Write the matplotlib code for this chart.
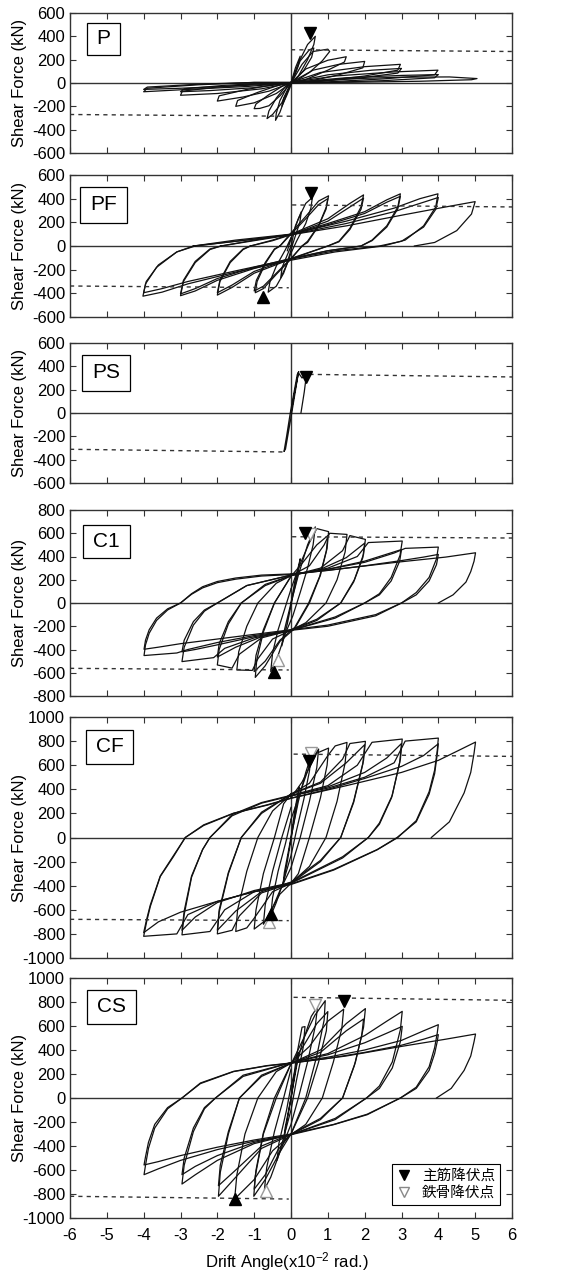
import matplotlib
matplotlib.use('Agg')
import matplotlib.pyplot as plt
from matplotlib.lines import Line2D
from matplotlib.patches import Rectangle

plt.rcParams['font.family'] = ['Liberation Sans', 'DejaVu Sans']
plt.rcParams['mathtext.default'] = 'regular'
plt.rcParams['axes.unicode_minus'] = False

# ---- data: (drift angle x10^-2 rad, shear force kN) ----
P_loops = [
    [(0, 0), (0.12, 130), (0.25, 230), (0.2, 150), (0.05, 20), (-0.12, -110), (-0.25, -200), (-0.2, -130), (0, 0)],
    [(0, 0), (0.2, 170), (0.45, 330), (0.66, 400), (0.62, 330), (0.45, 200), (0.2, 60), (0, 0),
     (-0.15, -120), (-0.3, -250), (-0.42, -320), (-0.4, -260), (-0.3, -150), (-0.1, -30), (0, 0)],
    [(0, 0), (0.25, 190), (0.5, 285), (0.62, 300), (0.56, 220), (0.35, 110), (0.1, 20), (0, 0),
     (-0.25, -170), (-0.5, -270), (-0.65, -305), (-0.6, -240), (-0.4, -130), (-0.15, -30), (0, 0)],
    [(0, 0), (0.3, 160), (0.6, 270), (0.8, 280), (1.0, 290), (1.05, 270), (0.85, 190), (0.5, 90), (0.1, 10),
     (0, 0), (-0.3, -110), (-0.6, -195), (-0.85, -218), (-1.0, -220), (-0.95, -180), (-0.6, -100), (-0.2, -20), (0, 0)],
    [(0, 0), (0.4, 120), (1.0, 195), (1.5, 225), (1.45, 180), (1.0, 110), (0.4, 30), (0, 0),
     (-0.4, -90), (-1.0, -170), (-1.5, -200), (-1.45, -150), (-0.9, -80), (-0.3, -15), (0, 0)],
    [(0, 5), (0.6, 110), (1.3, 160), (2.0, 185), (1.95, 130), (1.3, 70), (0.5, 15), (0, 0),
     (-0.6, -70), (-1.3, -120), (-2.0, -155), (-1.95, -110), (-1.2, -55), (-0.4, -10), (0, 0)],
    [(0, 5), (0.8, 90), (2.0, 140), (2.97, 160), (2.9, 110), (2.0, 60), (0.8, 15), (0, 0),
     (-0.8, -50), (-2.0, -90), (-3.0, -105), (-2.95, -70), (-2.0, -35), (-0.8, -5), (0, 0)],
    [(0, 5), (1.0, 70), (2.2, 110), (3.0, 125), (2.9, 85), (1.8, 40), (0.6, 10), (0, 0),
     (-1.0, -40), (-2.2, -65), (-3.0, -75), (-2.9, -50), (-1.8, -20), (-0.6, 0), (0, 0)],
    [(0, 5), (1.2, 60), (2.8, 95), (3.99, 110), (3.9, 70), (2.5, 35), (1.0, 10), (0, 0),
     (-1.2, -30), (-2.8, -55), (-4.0, -75), (-3.9, -45), (-2.5, -15), (-1.0, 5), (0, 5)],
    [(0, 5), (1.5, 45), (3.0, 65), (4.0, 72), (3.9, 45), (2.5, 20), (1.0, 5), (0, 0),
     (-1.5, -25), (-3.0, -45), (-4.0, -55), (-3.9, -35), (-2.5, -10), (-1.0, 5), (0, 5)],
    [(0, 5), (1.5, 35), (3.0, 50), (4.3, 52), (5.05, 38), (4.9, 28), (3.5, 15), (2.0, 8), (0.5, 3)],
]

PF_loops = [
    [(0, 0), (0.12, 170), (0.28, 290), (0.24, 200), (0.05, 20), (-0.12, -160), (-0.28, -270), (-0.24, -180), (0, 0)],
    [(-0.1, -40), (0, 60), (0.2, 230), (0.4, 360), (0.58, 410), (0.54, 320), (0.4, 190), (0.15, 40), (0, -60),
     (-0.2, -230), (-0.4, -340), (-0.62, -390), (-0.57, -300), (-0.4, -170), (-0.15, -30), (0, 70)],
    [(-0.3, 0), (0, 110), (0.4, 250), (0.75, 380), (1.02, 424), (0.96, 330), (0.76, 180), (0.45, 40), (0.3, 0),
     (0, -110), (-0.4, -240), (-0.75, -360), (-0.97, -395), (-0.92, -300), (-0.7, -150), (-0.45, -30), (-0.3, 0)],
    [(-0.3, 0), (0, 100), (0.4, 230), (0.75, 350), (1.0, 400), (0.95, 310), (0.75, 170), (0.45, 30), (0.3, 0),
     (0, -105), (-0.4, -230), (-0.75, -340), (-1.0, -380), (-0.94, -290), (-0.7, -140), (-0.45, -25), (-0.3, 0)],
    [(-1.1, 0), (-0.5, 50), (0, 100), (1.0, 230), (1.6, 360), (1.97, 432), (1.9, 330), (1.6, 150), (1.3, 40), (1.0, 0),
     (0, -110), (-1.0, -230), (-1.6, -350), (-2.0, -415), (-1.93, -300), (-1.65, -140), (-1.3, -30), (-1.1, 0)],
    [(-1.1, 0), (-0.5, 45), (0, 95), (1.0, 210), (1.6, 330), (1.97, 405), (1.9, 310), (1.6, 140), (1.3, 35), (1.0, 0),
     (0, -105), (-1.0, -215), (-1.6, -330), (-2.0, -395), (-1.93, -290), (-1.65, -130), (-1.3, -25), (-1.1, 0)],
    [(-1.9, 0), (-1.0, 50), (0, 100), (1.0, 190), (2.0, 290), (2.6, 390), (2.97, 441), (2.9, 330), (2.6, 170),
     (2.2, 50), (1.9, 0), (1.0, -40), (0, -110), (-1.0, -190), (-2.0, -290), (-2.6, -380), (-3.0, -420),
     (-2.92, -300), (-2.6, -140), (-2.2, -30), (-1.9, 0)],
    [(-1.9, 0), (-1.0, 45), (0, 95), (1.0, 180), (2.0, 275), (2.6, 370), (2.97, 420), (2.9, 315), (2.6, 160),
     (2.2, 45), (1.9, 0), (1.0, -40), (0, -105), (-1.0, -180), (-2.0, -275), (-2.6, -360), (-3.0, -405),
     (-2.92, -290), (-2.6, -130), (-2.2, -25), (-1.9, 0)],
    [(-2.65, 0), (-1.5, 50), (0, 100), (1.5, 210), (2.8, 320), (3.5, 400), (3.99, 441), (3.93, 330), (3.6, 170),
     (3.1, 50), (2.5, 0), (1.2, -50), (0, -120), (-1.5, -220), (-2.8, -320), (-3.5, -390), (-4.02, -424),
     (-3.95, -320), (-3.65, -180), (-3.1, -50), (-2.65, 0)],
    [(-2.65, 0), (-1.5, 40), (0, 95), (1.5, 190), (2.8, 290), (3.5, 360), (4.0, 410), (3.93, 310), (3.6, 160),
     (3.0, 40), (2.4, 0), (1.2, -40), (0, -110), (-1.5, -210), (-2.8, -300), (-3.5, -360), (-4.0, -395),
     (-3.93, -300), (-3.6, -160), (-3.1, -50), (-2.6, 0)],
    [(-2.6, 0), (-1.5, 40), (0, 95), (1.5, 170), (3.0, 260), (4.2, 330), (5.0, 375), (4.9, 270), (4.5, 130),
     (3.9, 30), (3.35, 0)],
]

PS_loops = [
    [(0, 0), (0.1, 180), (0.21, 355), (0.17, 330), (-0.02, 0), (-0.12, -200), (-0.19, -330), (-0.15, -310),
     (0.02, 0), (0.12, 190), (0.2, 345), (0.3, 300), (0.38, 325), (0.4, 280), (0.36, 180), (0.27, 0)],
]

C1_loops = [
    [(0, 0), (0.1, 180), (0.25, 380), (0.2, 270), (0.05, 60), (-0.1, -180), (-0.25, -370), (-0.2, -260), (0, 0)],
    [(0, 0), (0.2, 240), (0.45, 500), (0.66, 655), (0.6, 500), (0.45, 300), (0.25, 90), (0.05, -110),
     (-0.15, -260), (-0.35, -450), (-0.55, -590), (-0.5, -430), (-0.35, -230), (-0.15, -30), (0, 120)],
    [(0, 120), (0.2, 300), (0.5, 520), (0.7, 640), (1.02, 614), (0.98, 470), (0.8, 240), (0.5, 0), (0.1, -220),
     (-0.3, -330), (-0.7, -540), (-0.97, -640), (-0.93, -490), (-0.75, -250), (-0.45, 0), (0, 230)],
    [(0, 230), (0.3, 340), (0.7, 500), (1.0, 580), (0.96, 450), (0.78, 230), (0.48, 0), (0.1, -210),
     (-0.3, -320), (-0.7, -500), (-1.0, -590), (-0.95, -450), (-0.75, -230), (-0.45, 0), (0, 230)],
    [(0, 235), (0.5, 320), (0.9, 500), (1.05, 600), (1.52, 590), (1.47, 440), (1.25, 200), (0.95, 0), (0.4, -170),
     (0, -235), (-0.5, -310), (-0.9, -480), (-1.05, -580), (-1.47, -576), (-1.42, -420), (-1.2, -200), (-0.9, 0),
     (-0.4, 170), (0, 235)],
    [(0, 235), (0.8, 300), (1.4, 450), (1.6, 580), (2.02, 547), (1.97, 420), (1.72, 200), (1.35, 0), (0.7, -150),
     (0, -235), (-0.8, -300), (-1.4, -440), (-1.6, -560), (-2.0, -533), (-1.95, -400), (-1.7, -180), (-1.35, 0),
     (-0.7, 160), (0, 235)],
    [(0, 235), (0.8, 290), (1.5, 390), (2.0, 515), (1.95, 390), (1.7, 180), (1.35, 0), (0.7, -140),
     (0, -230), (-0.8, -290), (-1.5, -380), (-2.0, -465), (-1.95, -350), (-1.7, -160), (-1.35, 0), (-0.7, 150),
     (0, 235)],
    [(0, 240), (1.0, 300), (1.8, 400), (2.1, 520), (3.02, 533), (2.96, 410), (2.72, 220), (2.4, 80), (2.0, 0),
     (1.2, -130), (0, -235), (-1.0, -300), (-1.8, -390), (-2.1, -470), (-2.96, -504), (-2.9, -380), (-2.65, -190),
     (-2.35, -70), (-2.0, 0), (-1.2, 150), (0, 240)],
    [(0, 240), (1.0, 290), (2.0, 360), (2.6, 420), (3.0, 460), (2.95, 360), (2.72, 190), (2.4, 70), (2.0, 0),
     (1.2, -120), (0, -235), (-1.0, -290), (-2.0, -360), (-2.6, -400), (-2.96, -420), (-2.9, -320), (-2.65, -160),
     (-2.35, -60), (-2.0, 0), (-1.2, 150), (0, 240)],
    [(0, 245), (1.0, 290), (2.0, 350), (2.8, 430), (3.1, 470), (4.0, 481), (3.95, 380), (3.75, 220), (3.4, 90),
     (3.0, 0), (2.3, -110), (1.0, -200), (0, -235), (-1.0, -280), (-2.0, -340), (-2.8, -400), (-3.1, -430),
     (-3.99, -452), (-3.95, -360), (-3.85, -260), (-3.65, -150), (-3.35, -60), (-3.0, 0), (-2.7, 80),
     (-2.4, 140), (-2.0, 185), (-1.5, 215), (-0.8, 240), (0, 250)],
    [(0, 250), (1.0, 280), (2.0, 320), (3.0, 365), (3.6, 395), (4.0, 418), (3.95, 330), (3.75, 190), (3.4, 70),
     (3.0, 0), (2.3, -100), (1.0, -190), (0, -230), (-1.0, -270), (-2.0, -310), (-3.0, -350), (-3.6, -380),
     (-3.99, -398), (-3.95, -320), (-3.85, -230), (-3.65, -130), (-3.35, -50), (-3.0, 0), (-2.7, 75),
     (-2.4, 130), (-2.0, 175), (-1.5, 205), (-0.8, 232), (0, 245)],
    [(0, 245), (1.5, 300), (3.0, 355), (4.2, 395), (5.01, 432), (4.97, 360), (4.88, 270), (4.75, 180), (4.4, 70),
     (4.0, 0)],
]

CF_loops = [
    [(0, 0), (0.1, 220), (0.22, 420), (0.18, 300), (0.04, 60), (-0.1, -200), (-0.22, -400), (-0.18, -290), (0, 0)],
    [(0, 0), (0.2, 300), (0.4, 540), (0.55, 680), (0.5, 550), (0.35, 320), (0.15, 60), (0, -150),
     (-0.2, -360), (-0.4, -540), (-0.55, -650), (-0.5, -500), (-0.35, -280), (-0.15, -50), (0, 150)],
    [(0, 150), (0.3, 420), (0.55, 640), (0.75, 734), (0.7, 580), (0.5, 300), (0.25, 0), (0, -250),
     (-0.3, -440), (-0.55, -620), (-0.75, -720), (-0.7, -560), (-0.5, -280), (-0.25, 0), (0, 250)],
    [(0, 330), (0.3, 460), (0.7, 700), (1.02, 742), (0.98, 600), (0.8, 330), (0.5, 0), (0.2, -300), (0, -380),
     (-0.3, -470), (-0.7, -690), (-1.0, -760), (-0.95, -600), (-0.75, -300), (-0.45, 0), (-0.2, 280), (0, 360)],
    [(0, 360), (0.5, 450), (1.0, 680), (1.2, 760), (1.52, 789), (1.47, 620), (1.25, 300), (0.95, 0), (0.5, -240),
     (0, -380), (-0.5, -450), (-1.0, -670), (-1.2, -750), (-1.5, -780), (-1.45, -600), (-1.2, -280), (-0.9, 0),
     (-0.5, 220), (0, 360)],
    [(0, 360), (0.8, 460), (1.4, 650), (1.6, 780), (2.02, 798), (1.97, 640), (1.7, 300), (1.35, 0), (0.8, -200),
     (0, -380), (-0.8, -460), (-1.4, -650), (-1.6, -770), (-2.0, -800), (-1.95, -620), (-1.7, -300), (-1.35, 0),
     (-0.8, 210), (0, 360)],
    [(0, 360), (0.8, 450), (1.5, 620), (2.0, 770), (1.95, 610), (1.7, 290), (1.35, 0), (0.8, -190),
     (0, -370), (-0.8, -450), (-1.5, -610), (-2.0, -770), (-1.95, -600), (-1.7, -290), (-1.35, 0), (-0.8, 200),
     (0, 360)],
    [(0, 350), (1.0, 430), (1.8, 600), (2.2, 790), (3.02, 817), (2.97, 650), (2.75, 350), (2.4, 120), (2.1, 0),
     (1.4, -170), (0, -380), (-1.0, -450), (-1.8, -600), (-2.2, -780), (-2.96, -808), (-2.9, -640), (-2.7, -330),
     (-2.4, -100), (-2.2, 0), (-1.6, 190), (-0.8, 290), (0, 350)],
    [(0, 345), (1.0, 420), (2.0, 540), (2.6, 660), (3.0, 780), (2.95, 620), (2.73, 330), (2.4, 110), (2.1, 0),
     (1.4, -160), (0, -375), (-1.0, -440), (-2.0, -540), (-2.6, -660), (-2.96, -770), (-2.9, -610), (-2.7, -320),
     (-2.4, -100), (-2.2, 0), (-1.6, 180), (-0.8, 285), (0, 345)],
    [(0, 345), (1.0, 410), (2.0, 500), (2.8, 620), (3.1, 800), (4.0, 825), (3.97, 720), (3.9, 560), (3.75, 380),
     (3.4, 140), (2.9, 0), (2.34, -102), (1.16, -270), (0, -390), (-1.0, -450), (-2.0, -530), (-2.8, -640),
     (-3.1, -800), (-4.0, -820), (-3.92, -700), (-3.82, -573), (-3.55, -324), (-3.19, -158), (-2.87, 0),
     (-2.37, 105), (-1.56, 202), (-0.65, 271), (0, 327)],
    [(0, 327), (1.0, 400), (2.0, 490), (3.0, 590), (3.6, 680), (4.0, 778), (3.97, 690), (3.9, 530), (3.75, 360),
     (3.4, 130), (2.88, 0), (2.34, -100), (1.16, -265), (0, -385), (-1.0, -450), (-2.0, -530), (-3.0, -620),
     (-3.6, -700), (-4.0, -790), (-3.92, -680), (-3.82, -560), (-3.55, -320), (-3.19, -150), (-2.87, 0),
     (-2.37, 100), (-1.56, 200), (-0.65, 268), (0, 325)],
    [(0, 325), (1.5, 430), (3.0, 540), (4.0, 640), (4.6, 730), (5.01, 792), (4.97, 700), (4.88, 540), (4.7, 370),
     (4.3, 130), (3.81, 0)],
]

CS_loops = [
    [(0, 0), (0.1, 200), (0.2, 380), (0.16, 280), (0.03, 50), (-0.1, -180), (-0.2, -350), (-0.16, -250), (0, 0)],
    [(0, 0), (0.15, 350), (0.3, 590), (0.38, 595), (0.33, 420), (0.15, 150), (0, -100),
     (-0.2, -330), (-0.38, -520), (-0.33, -380), (-0.12, -100), (0, 100)],
    [(0, 100), (0.3, 450), (0.55, 680), (0.72, 760), (0.66, 600), (0.45, 300), (0.2, 0), (0, -220),
     (-0.3, -450), (-0.55, -660), (-0.72, -760), (-0.66, -580), (-0.45, -280), (-0.2, 0), (0, 240)],
    [(0, 280), (0.3, 470), (0.65, 690), (0.93, 811), (0.9, 650), (0.7, 350), (0.4, 0), (0, -300),
     (-0.3, -450), (-0.7, -680), (-1.01, -819), (-0.97, -650), (-0.75, -300), (-0.4, 0), (0, 285)],
    [(0, 285), (0.35, 440), (0.7, 620), (1.0, 720), (0.96, 560), (0.75, 300), (0.45, 0), (0, -300),
     (-0.35, -430), (-0.7, -640), (-1.0, -760), (-0.95, -600), (-0.75, -290), (-0.45, 0), (0, 285)],
    [(0, 290), (0.5, 430), (1.0, 640), (1.43, 740), (1.38, 580), (1.15, 300), (0.85, 0), (0.4, -220),
     (0, -305), (-0.5, -440), (-1.0, -680), (-1.53, -842), (-1.47, -640), (-1.25, -300), (-0.9, 0), (-0.4, 220),
     (0, 290)],
    [(0, 290), (0.8, 400), (1.5, 620), (2.02, 745), (1.97, 590), (1.75, 300), (1.4, 0), (0.8, -180),
     (0, -305), (-0.8, -420), (-1.5, -660), (-1.97, -819), (-1.92, -620), (-1.7, -300), (-1.4, 0), (-0.8, 190),
     (0, 290)],
    [(0, 290), (0.8, 380), (1.5, 560), (1.97, 658), (1.92, 520), (1.72, 270), (1.4, 0), (0.8, -170),
     (0, -300), (-0.8, -400), (-1.5, -600), (-1.97, -731), (-1.92, -560), (-1.7, -280), (-1.4, 0), (-0.8, 180),
     (0, 290)],
    [(0, 295), (1.0, 370), (2.0, 520), (2.6, 640), (3.02, 722), (2.97, 570), (2.75, 300), (2.4, 100), (2.05, 0),
     (1.2, -180), (0, -305), (-1.0, -380), (-2.0, -520), (-2.6, -640), (-2.96, -717), (-2.9, -560), (-2.65, -280),
     (-2.35, -90), (-2.05, 0), (-1.3, 190), (0, 295)],
    [(0, 295), (1.0, 360), (2.0, 460), (2.6, 540), (3.02, 597), (2.97, 470), (2.75, 250), (2.4, 80), (2.05, 0),
     (1.2, -170), (0, -305), (-1.0, -370), (-2.0, -480), (-2.6, -570), (-2.96, -639), (-2.9, -500), (-2.65, -250),
     (-2.35, -80), (-2.05, 0), (-1.3, 180), (0, 295)],
    [(0, 292), (1.0, 340), (2.0, 400), (3.0, 480), (3.6, 560), (4.0, 611), (3.97, 540), (3.9, 420), (3.75, 260),
     (3.4, 90), (2.97, 0), (2.07, -139), (1.16, -222), (0, -306), (-1.0, -360), (-2.0, -430), (-3.0, -520),
     (-3.6, -590), (-3.99, -639), (-3.95, -560), (-3.87, -420), (-3.7, -250), (-3.35, -90), (-2.96, 0),
     (-2.46, 125), (-1.56, 222), (-0.65, 270), (0, 292)],
    [(0, 292), (1.0, 330), (2.0, 380), (3.0, 440), (3.6, 490), (4.0, 528), (3.97, 470), (3.9, 370), (3.75, 230),
     (3.4, 80), (2.97, 0), (2.07, -135), (1.16, -220), (0, -300), (-1.0, -350), (-2.0, -410), (-3.0, -480),
     (-3.6, -530), (-3.99, -558), (-3.95, -490), (-3.87, -370), (-3.7, -220), (-3.35, -80), (-2.96, 0),
     (-2.46, 120), (-1.56, 220), (-0.65, 268), (0, 290)],
    [(0, 290), (1.5, 350), (3.0, 430), (4.2, 490), (5.01, 533), (4.97, 470), (4.88, 350), (4.7, 230), (4.35, 80),
     (3.95, 0)],
]

# yield strength lines (dashed): [(x0, y0), (x1, y1)]
P_yield = [[(0, 285), (6, 270)], [(-6, -270), (0, -285)]]
PF_yield = [[(0.03, 347), (6, 330)], [(-6, -338), (-0.06, -353)]]
PS_yield = [[(0.5, 331), (6, 309)], [(-6, -311), (-0.2, -334)]]
C1_yield = [[(0.03, 570), (6, 559)], [(-6, -562), (-0.06, -576)]]
CF_yield = [[(0.07, 692), (6, 673)], [(-6, -679), (-0.06, -690)]]
CS_yield = [[(0.07, 839), (6, 814)], [(-6, -819), (-0.06, -842)]]

# yield points: (x, y, marker, filled)  filled = main bar, open = steel
P_marks = [(0.51, 430, 'v', True)]
PF_marks = [(0.55, 445, 'v', True), (-0.76, -430, '^', True)]
PS_marks = [(0.42, 312, 'v', True)]
C1_marks = [(0.52, 590, 'v', False), (0.39, 600, 'v', True), (-0.35, -490, '^', False), (-0.47, -590, '^', True)]
CF_marks = [(0.55, 700, 'v', False), (0.48, 632, 'v', True), (-0.6, -705, '^', False), (-0.54, -634, '^', True)]
CS_marks = [(0.66, 775, 'v', False), (1.43, 806, 'v', True), (-0.67, -778, '^', False), (-1.53, -842, '^', True)]

names = ['P', 'PF', 'PS', 'C1', 'CF', 'CS']
loops = [P_loops, PF_loops, PS_loops, C1_loops, CF_loops, CS_loops]
yields = [P_yield, PF_yield, PS_yield, C1_yield, CF_yield, CS_yield]
marks = [P_marks, PF_marks, PS_marks, C1_marks, CF_marks, CS_marks]
ymax = [600, 600, 600, 800, 1000, 1000]

# layout in figure pixels
W, H = 584, 1274
axes_px = [(13, 153), (175, 317), (343, 483), (510, 696), (717, 958), (978, 1218)]
box_px = [(87, 23, 33, 32), (80, 187, 47, 36), (82, 355, 48, 36),
          (83, 525, 47, 33), (86, 730, 47, 34), (87, 990, 49, 34)]

fig = plt.figure(figsize=(W / 100, H / 100), dpi=100)
ink = '#111111'

for i in range(6):
    top, bot = axes_px[i]
    ax = fig.add_axes([70 / W, 1 - bot / H, 442 / W, (bot - top) / H])

    for lp in loops[i]:
        xs, ys = zip(*lp)
        ax.plot(xs, ys, color=ink, lw=0.9, solid_joinstyle='round')

    ax.axhline(0, color='#333', lw=1.0, zorder=1)
    ax.axvline(0, color='#333', lw=1.0, zorder=1)

    for seg in yields[i]:
        xs, ys = zip(*seg)
        ax.plot(xs, ys, color='#333', lw=1.0, ls=(0, (3, 3)))

    for x, y, m, filled in marks[i]:
        if filled:
            ax.plot(x, y, marker=m, ms=8, color='black', ls='none', zorder=5)
        else:
            ax.plot(x, y, marker=m, ms=8, mfc='white', mec='#999', ls='none', zorder=4)

    ax.set_xlim(-6, 6)
    ax.set_ylim(-ymax[i], ymax[i])
    ax.set_xticks(range(-6, 7))
    ax.set_yticks(range(-ymax[i], ymax[i] + 1, 200))
    ax.tick_params(direction='in', top=True, right=True, length=4, width=0.8,
                   labelsize=12, color='#333')
    ax.tick_params(axis='y', pad=3.5)
    ax.tick_params(axis='x', pad=7)
    for sp in ax.spines.values():
        sp.set_linewidth(1.0)
        sp.set_color('#333')
    if i < 5:
        ax.set_xticklabels([])

    ax.set_ylabel('Shear Force (kN)', fontsize=12)
    ax.yaxis.set_label_coords(-0.097, 0.5)

    bx, by, bw, bh = box_px[i]
    fig.add_artist(Rectangle((bx / W, 1 - (by + bh) / H), bw / W, bh / H, transform=fig.transFigure,
                             fc='white', ec='black', lw=0.9, zorder=10))
    fig.text((bx + bw / 2) / W, 1 - (by + bh / 2) / H, names[i], fontsize=15,
             ha='center', va='center', zorder=11)

    if i == 5:
        handles = [Line2D([], [], marker='v', color='black', ls='none', ms=7),
                   Line2D([], [], marker='v', mfc='white', mec='#888', ls='none', ms=7)]
        leg = ax.legend(handles, ['主筋降伏点', '鉄骨降伏点'], loc='lower right',
                        bbox_to_anchor=(1 - 12 / 442, 13 / 240), borderaxespad=0,
                        prop={'family': ['Noto Sans CJK JP'], 'size': 10.5},
                        fancybox=False, framealpha=1, edgecolor='black',
                        handlelength=1.0, handletextpad=0.7, labelspacing=0.2, borderpad=0.35)
        leg.get_frame().set_linewidth(0.8)

fig.text(287 / W, 1 - 1262 / H, 'Drift Angle(x10$^{-2}$ rad.)', fontsize=12, ha='center', va='center')

fig.savefig('out.png', dpi=100)
